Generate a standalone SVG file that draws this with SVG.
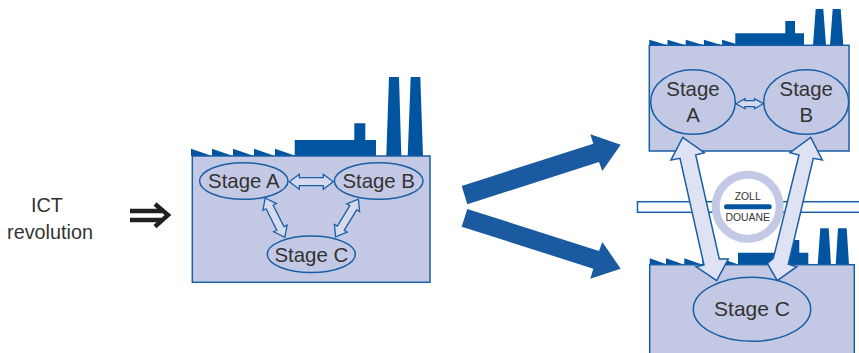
<svg xmlns="http://www.w3.org/2000/svg" width="859" height="353" viewBox="0 0 859 353">
<style>
.wall{fill:#c3c9e5;stroke:#1a5fa5;stroke-width:1.5}
.roof{fill:#0054a0}
.st{fill:none;stroke:#1a5fa5;stroke-width:1.5}
.dbl{fill:#d5daee;stroke:#1a5fa5;stroke-width:1.3;stroke-linejoin:miter}
.big{fill:#dfe2f2;stroke:#1a5fa5;stroke-width:1.5;stroke-linejoin:miter}
.flow{fill:#1a5aa0}
text{font-family:"Liberation Sans",Arial,sans-serif;fill:#333;text-anchor:middle}
.l{font-size:20.4px}
.s{font-size:10.4px}
</style>
<defs>
<polygon id="dbl44" class="dbl" points="-22,0 -12,-7.5 -12,-4 12,-4 12,-7.5 22,0 12,7.5 12,4 -12,4 -12,7.5"/>
</defs>
<g id="label-ict">
<text x="47" y="212" style="font-size:19.8px">ICT</text>
<text x="50" y="239" style="font-size:19.8px">revolution</text>
</g>
<g id="border">
<rect x="637.5" y="201.7" width="225" height="10.6" fill="#fff" stroke="#1a5fa5" stroke-width="1.5"/>
<circle cx="747.7" cy="206.7" r="32" fill="#fff" stroke="#c3c9e5" stroke-width="8"/>
<rect x="724" y="204.3" width="47.7" height="5" rx="2.5" fill="#0054a0"/>
<text class="s" x="747.7" y="200">ZOLL</text>
<text class="s" x="747.7" y="221">DOUANE</text>
</g>
<g id="factory-1">
<path class="roof" d="M191,148.7L212,156H191ZM212,148.7L233,156H212ZM233,148.7L254,156H233ZM254,148.7L275,156H254ZM275,148.7L296,156H275ZM294.7,140H354.3V123.3H365.3V140H376V156H294.7ZM389,77H399L401.3,156H386.3ZM410.7,77H420.3L423,156H407.7Z"/>
<rect class="wall" x="192.3" y="156" width="237.7" height="126.3"/>
</g>
<g id="stage-a1"><ellipse class="st" cx="243.8" cy="181" rx="44.2" ry="18.3"/><text class="l" x="243.8" y="188">Stage A</text></g>
<g id="stage-b1"><ellipse class="st" cx="378.7" cy="181" rx="44.3" ry="18.3"/><text class="l" x="378.7" y="188">Stage B</text></g>
<g id="stage-c1"><ellipse class="st" cx="311.3" cy="254.3" rx="44" ry="18.3"/><text class="l" x="311.3" y="261.5">Stage C</text></g>
<g id="factory-2">
<path class="roof" d="M649.3,39.7L667.5,45.3H649.3ZM667.5,39.7L685.7,45.3H667.5ZM685.7,39.7L703.9,45.3H685.7ZM703.9,39.7L722.1,45.3H703.9ZM722.1,39.7L740.3,45.3H722.1ZM735.3,33.3H785.3V21H795V33.3H804V45.3H735.3ZM815.7,9H823.3L826,45.3H813ZM832.7,9H840.7L843.3,45.3H830Z"/>
<rect class="wall" x="649.3" y="45.3" width="199.7" height="105.7"/>
</g>
<g id="factory-3">
<path class="roof" d="M649.7,258.3L667.9,264.7H649.7ZM666,258.3L684.2,264.7H666ZM684.3,258.3L702.5,264.7H684.3ZM702.5,258.3L720.7,264.7H702.5ZM720.7,258.3L738.9,264.7H720.7ZM738,252.7H789.5V240H799.3V252.7H808.3V264.7H738ZM820.3,228.3H828.7L831,264.7H817.7ZM838,228.3H846.7L849,264.7H835.7Z"/>
<rect class="wall" x="649.7" y="264.7" width="204.6" height="95"/>
</g>
<g id="stage-a2"><ellipse class="st" cx="693" cy="102" rx="42.3" ry="32.3"/><text class="l" x="693" y="95.7">Stage</text><text class="l" x="693" y="121.7">A</text></g>
<g id="stage-b2"><ellipse class="st" cx="806.2" cy="102" rx="42.5" ry="32.3"/><text class="l" x="806.2" y="95.7">Stage</text><text class="l" x="806.2" y="121.7">B</text></g>
<g id="stage-c2"><ellipse class="st" cx="752" cy="309.3" rx="58.7" ry="32"/><text x="752" y="315.7" style="font-size:21px">Stage C</text></g>
<g id="connectors">
<use href="#dbl44" transform="translate(311.3,181.7)"/>
<use href="#dbl44" transform="translate(275,217.7) rotate(63.4)"/>
<use href="#dbl44" transform="translate(347,218) rotate(121.3)"/>
<polygon class="dbl" points="736,103.7 745,98.7 745,100.7 754.5,100.7 754.5,98.7 763.3,103.7 754.5,108.7 754.5,106.7 745,106.7 745,108.7"/>
<polygon class="big" points="682.7,137.3 704.3,152.7 695.7,155 719.3,259 728.3,259 716.7,280.7 696,266.7 704,265 680,158.3 671,160"/>
<polygon class="big" points="810.7,137.3 822.3,160 813.3,158.3 788.3,264.3 796.7,266.7 777.3,280.7 767.3,263.3 773.3,258.3 799,155 790,152.7"/>
<polygon class="flow" points="461.7,186 593.3,143.7 590.3,134.3 620.7,144.7 602.3,171 599,162 467.3,204.3"/>
<polygon class="flow" points="467.3,209 599,251 602.3,242 620.7,268.7 590.3,278.7 593.3,268.7 461.7,226.7"/>
<path d="M130,211H163M130,220H163M155,204L168,215L155,226.7" fill="none" stroke="#231f20" stroke-width="4.4"/>
</g>
</svg>
